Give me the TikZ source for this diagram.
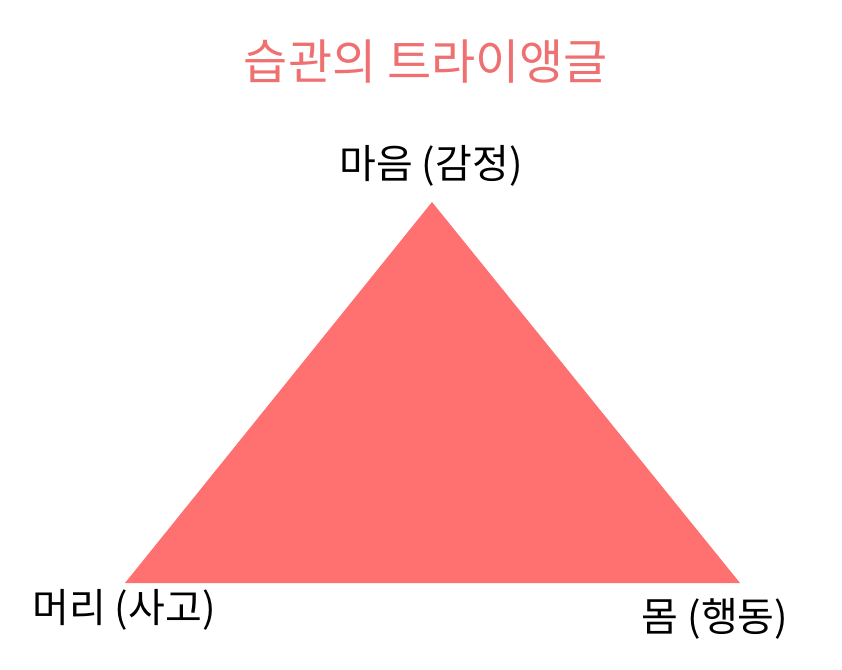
\documentclass[tikz,border=0pt]{standalone}
\usepackage{fontspec}
\setmainfont{Noto Sans CJK KR}
\definecolor{trired}{HTML}{FF7070}
\definecolor{titlered}{HTML}{EE7070}
\begin{document}
\begin{tikzpicture}[x=1pt,y=-1pt]
		\useasboundingbox (0,0) rectangle (842,669);
		\tikzset{label/.style={font=\fontsize{40}{46}\selectfont, text=black, inner sep=0pt}}
		
		\coordinate (top) at (432,202);
		\coordinate (left) at (125,583);
		\coordinate (right) at (740,583);
		\fill [trired] (top) -- (right) -- (left) -- cycle;
		
		\node [text=titlered, font=\fontsize{48}{54}\selectfont] (title) at (426,62) {습관의 트라이앵글};
		\node [label] (mind) at (431,166) {마음 (감정)};
		\node [label] (head) at (124,610) {머리 (사고)};
		\node [label] (body) at (715,619) {몸 (행동)};
	\end{tikzpicture}
\end{document}
